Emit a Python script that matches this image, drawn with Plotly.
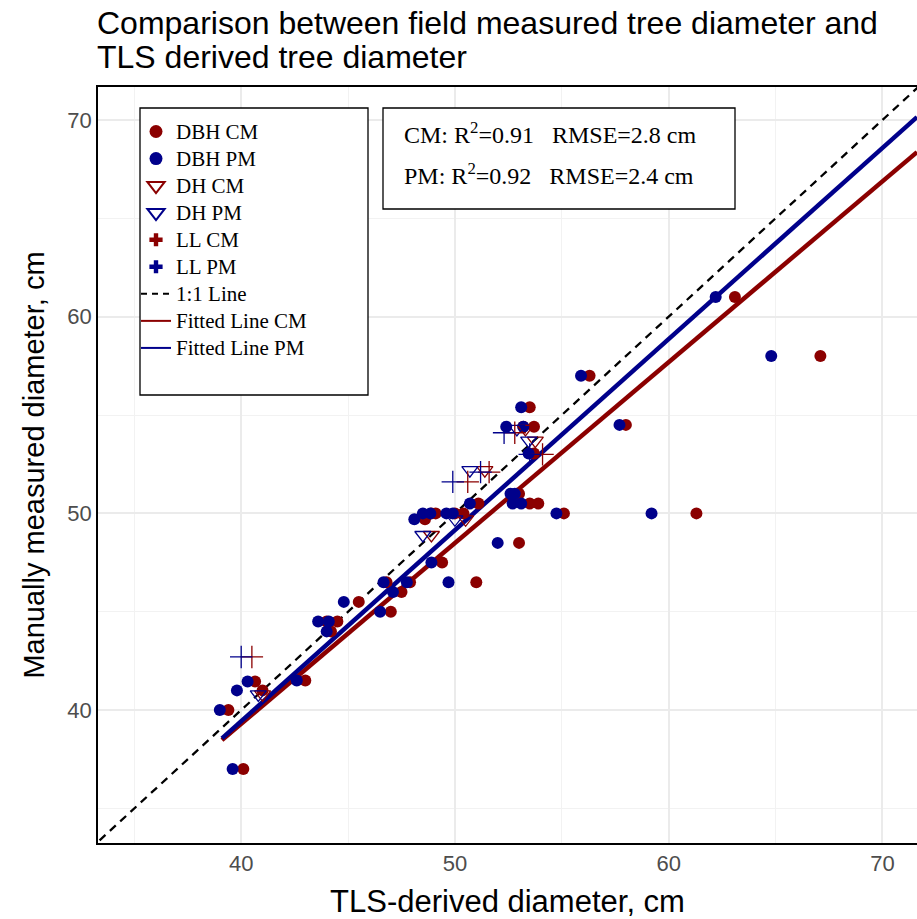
import plotly.graph_objects as go

# ---------------- data ----------------
# DBH: manually measured diameter (y) vs TLS-derived diameter for PM and CM
dbh_manual = [37.0, 40.0, 41.0, 41.45, 41.5, 44.0, 44.5, 44.5, 45.5, 45.0, 46.0,
              46.5, 46.5, 47.5, 46.5, 48.5, 49.7, 50.0, 50.0, 50.0, 50.0, 50.5,
              50.5, 50.5, 51.0, 51.0, 50.0, 50.0, 53.05, 54.4, 54.4, 55.4, 54.5,
              57.0, 58.0, 61.0]
dbh_pm = [39.6, 39.0, 39.8, 40.3, 42.6, 44.0, 43.6, 44.1, 44.8, 46.5, 47.1,
          46.66, 47.75, 48.9, 49.7, 52.0, 48.1, 48.5, 48.85, 49.6, 49.9, 50.7,
          52.7, 53.1, 52.6, 52.8, 54.75, 59.2, 53.45, 52.4, 53.2, 53.1, 57.7,
          55.9, 64.8, 62.2]
dbh_cm = [40.1, 39.4, 41.0, 40.65, 43.0, 44.2, 44.0, 44.5, 45.5, 47.0, 47.5,
          46.8, 47.9, 49.4, 51.0, 53.0, 48.6, 48.9, 49.1, 50.0, 50.4, 51.1,
          53.5, 53.9, 52.9, 53.0, 55.1, 61.3, 53.7, 53.2, 53.7, 53.5, 58.0,
          56.3, 67.1, 63.1]

# DH (triangles)
dh_manual = [40.8, 48.9, 49.7, 52.2, 54.3, 53.7]
dh_pm = [40.8, 48.5, 50.0, 50.7, 52.9, 53.45]
dh_cm = [41.0, 48.9, 50.5, 51.4, 53.3, 53.76]

# LL (crosses)
ll_manual = [42.7, 51.6, 52.1, 54.1, 53.0]
ll_pm = [40.0, 49.9, 51.2, 52.3, 53.5]
ll_cm = [40.5, 50.6, 51.6, 52.8, 54.1]

# reference and fitted lines (end points)
one_to_one_x = [30, 75]
one_to_one_y = [30, 75]
fit_x = [39.1, 71.62]
fit_cm_y = [38.47, 68.37]
fit_pm_y = [38.56, 70.15]

title_lines = ["Comparison between field measured tree diameter and",
               "TLS derived tree diameter"]
stats_lines = ["CM: R<sup>2</sup>=0.91\u00a0\u00a0\u00a0RMSE=2.8 cm",
               "PM: R<sup>2</sup>=0.92\u00a0\u00a0\u00a0RMSE=2.4 cm"]
legend_names = ["DBH CM", "DBH PM", "DH CM", "DH PM", "LL CM", "LL PM",
                "1:1 Line", "Fitted Line CM", "Fitted Line PM"]

x_ticks = [40, 50, 60, 70]
y_ticks = [40, 50, 60, 70]

RED = "#8B0000"
BLUE = "#00008B"

# ---------------- figure ----------------
W, H = 917, 919
ML, MR, MT, MB = 98, 0, 87, 76
PW, PH = W - ML - MR, H - MT - MB


def px_to_paper(x, y):
    return (x - ML) / PW, (H - MB - y) / PH


fig = go.Figure()

DASH = "8px,6px"

# lines
fig.add_trace(go.Scatter(x=one_to_one_x, y=one_to_one_y, mode="lines",
                         line=dict(color="black", width=2.3, dash=DASH),
                         showlegend=False, hoverinfo="skip"))
fig.add_trace(go.Scatter(x=fit_x, y=fit_cm_y, mode="lines",
                         line=dict(color=RED, width=4.5), showlegend=False))
fig.add_trace(go.Scatter(x=fit_x, y=fit_pm_y, mode="lines",
                         line=dict(color=BLUE, width=4.5), showlegend=False))

# points
fig.add_trace(go.Scatter(x=dbh_cm, y=dbh_manual, mode="markers",
                         marker=dict(symbol="circle", size=12, color=RED),
                         showlegend=False))
fig.add_trace(go.Scatter(x=dbh_pm, y=dbh_manual, mode="markers",
                         marker=dict(symbol="circle", size=12, color=BLUE),
                         showlegend=False))
fig.add_trace(go.Scatter(x=dh_cm, y=dh_manual, mode="markers",
                         marker=dict(symbol="triangle-down-open", size=14, color=RED,
                                     line=dict(width=1.3, color=RED)),
                         showlegend=False))
fig.add_trace(go.Scatter(x=dh_pm, y=dh_manual, mode="markers",
                         marker=dict(symbol="triangle-down-open", size=14, color=BLUE,
                                     line=dict(width=1.3, color=BLUE)),
                         showlegend=False))
fig.add_trace(go.Scatter(x=ll_cm, y=ll_manual, mode="markers",
                         marker=dict(symbol="cross-thin-open", size=16, color=RED,
                                     line=dict(width=1.3, color=RED)),
                         showlegend=False))
fig.add_trace(go.Scatter(x=ll_pm, y=ll_manual, mode="markers",
                         marker=dict(symbol="cross-thin-open", size=16, color=BLUE,
                                     line=dict(width=1.3, color=BLUE)),
                         showlegend=False))

# legend-only entries
leg_styles = [
    dict(mode="markers", marker=dict(symbol="circle", size=13, color=RED)),
    dict(mode="markers", marker=dict(symbol="circle", size=13, color=BLUE)),
    dict(mode="markers", marker=dict(symbol="triangle-down-open", size=15, color=RED,
                                     line=dict(width=2, color=RED))),
    dict(mode="markers", marker=dict(symbol="triangle-down-open", size=15, color=BLUE,
                                     line=dict(width=2, color=BLUE))),
    dict(mode="markers", marker=dict(symbol="cross", size=11, color=RED)),
    dict(mode="markers", marker=dict(symbol="cross", size=11, color=BLUE)),
    dict(mode="lines", line=dict(color="black", width=2, dash="6px,5px")),
    dict(mode="lines", line=dict(color=RED, width=2)),
    dict(mode="lines", line=dict(color=BLUE, width=2)),
]
for name, kw in zip(legend_names, leg_styles):
    fig.add_trace(go.Scatter(x=[None], y=[None],
                             name=f"<span style='font-size:21px'>{name}</span>",
                             showlegend=True, **kw))

# boxes
lx0, ly0 = px_to_paper(140, 108)
lx1, ly1 = px_to_paper(368, 395)
ax0, ay0 = px_to_paper(383, 108)
ax1, ay1 = px_to_paper(735, 209)
shapes = [
    dict(type="rect", xref="paper", yref="paper", x0=lx0, x1=lx1, y0=ly1, y1=ly0,
         line=dict(color="black", width=1.3), fillcolor="white", layer="above"),
    dict(type="rect", xref="paper", yref="paper", x0=ax0, x1=ax1, y0=ay1, y1=ay0,
         line=dict(color="black", width=1.3), fillcolor="white", layer="above"),
]

annotations = []
for t, ypx in zip(stats_lines, [133, 174]):
    xp, yp = px_to_paper(402, ypx)
    annotations.append(dict(text=t, xref="paper", yref="paper", x=xp, y=yp,
                            xanchor="left", yanchor="middle", showarrow=False,
                            font=dict(family="Liberation Serif", size=24, color="black")))
for t, ypx in zip(title_lines, [23, 57]):
    xp, yp = px_to_paper(95, ypx)
    annotations.append(dict(text=t, xref="paper", yref="paper", x=xp, y=yp,
                            xanchor="left", yanchor="middle", showarrow=False,
                            font=dict(family="Liberation Sans", size=32, color="black")))

legx, legy = px_to_paper(136, 113)

fig.update_layout(
    width=W, height=H,
    margin=dict(l=ML, r=MR, t=MT, b=MB, autoexpand=False),
    paper_bgcolor="white", plot_bgcolor="white",
    xaxis=dict(range=[33.3, 71.62], tickvals=x_ticks, ticks="",
               tickfont=dict(family="Liberation Sans", size=22, color="#4D4D4D"),
               showgrid=True, gridcolor="#EBEBEB", gridwidth=2,
               minor=dict(dtick=5, tick0=35, showgrid=True, gridcolor="#F2F2F2", gridwidth=1),
               showline=True, linecolor="black", linewidth=1.5, mirror=True,
               zeroline=False,
               title=dict(text="TLS-derived diameter, cm", standoff=15,
                          font=dict(family="Liberation Sans", size=31, color="black"))),
    yaxis=dict(range=[33.24, 71.68], tickvals=y_ticks, ticks="",
               tickfont=dict(family="Liberation Sans", size=22, color="#4D4D4D"),
               showgrid=True, gridcolor="#EBEBEB", gridwidth=2,
               minor=dict(dtick=5, tick0=35, showgrid=True, gridcolor="#F2F2F2", gridwidth=1),
               showline=True, linecolor="black", linewidth=1.5, mirror=True,
               zeroline=False,
               title=dict(text="Manually measured diameter, cm", standoff=14,
                          font=dict(family="Liberation Sans", size=29, color="black"))),
    legend=dict(x=legx, y=legy, xanchor="left", yanchor="top",
                bgcolor="rgba(0,0,0,0)", borderwidth=0,
                font=dict(family="Liberation Serif", size=18.5, color="black"),
                tracegroupgap=0, itemwidth=30),
    shapes=shapes,
    annotations=annotations,
)

fig.write_html("out.html")
